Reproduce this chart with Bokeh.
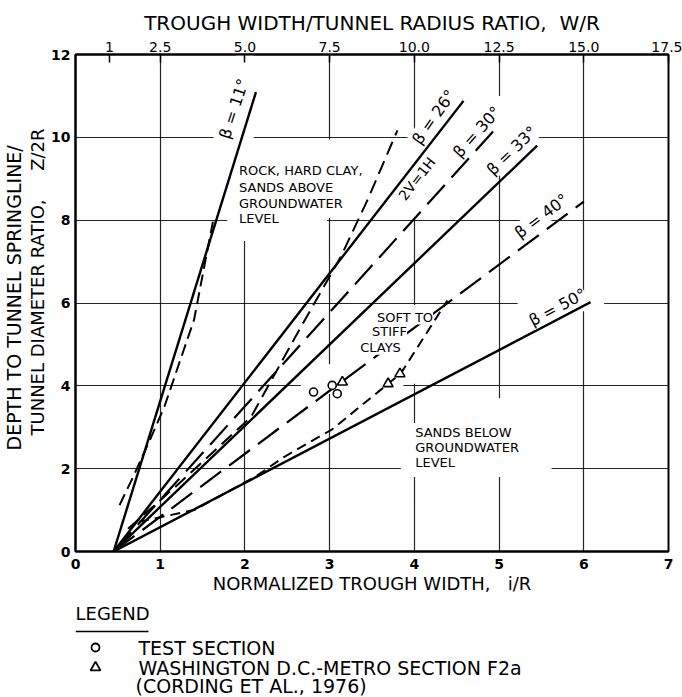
import math
from bokeh.plotting import figure
from bokeh.layouts import column
from bokeh.models import Range1d, LinearAxis, FixedTicker, Label, Title
from bokeh.embed import file_html
from bokeh.resources import INLINE

# ---------------- data ----------------
x_ticks = [0, 1, 2, 3, 4, 5, 6, 7]
y_ticks = [0, 2, 4, 6, 8, 10, 12]
wr_ticks = [1, 2.5, 5.0, 7.5, 10.0, 12.5, 15.0, 17.5]
wr_labels = ["1", "2.5", "5.0", "7.5", "10.0", "12.5", "15.0", "17.5"]

origin_x = 0.45
origin_y = 0.0
beta_deg = [11, 26, 30, 33, 40, 50]
beta_end_x = [2.13, 4.58, 5.0, 5.45, 6.0, 6.08]
beta_end_y = [11.09, 10.88, 10.3, 9.8, 8.45, 6.02]
beta_dashed = [False, False, True, False, True, False]

# envelope of "rock, hard clay, sands above groundwater" (left, near beta=11)
rock_left_x = [0.52, 0.68, 0.88, 1.05, 1.2, 1.4, 1.55, 1.63]
rock_left_y = [1.12, 1.8, 2.7, 3.5, 4.4, 5.6, 7.2, 8.05]
# envelope (right, steep dashed)
rock_right_x = [0.62, 1.2, 2.07, 2.6, 3.13, 3.45, 3.80]
rock_right_y = [0.55, 1.6, 3.24, 5.2, 7.11, 8.5, 10.17]
# envelope of "soft to stiff clays" (short dashes)
clay_x = [0.75, 1.1, 1.4, 2.12, 2.46, 3.03, 3.84, 4.39]
clay_y = [0.72, 0.87, 1.0, 1.8, 2.28, 2.95, 4.3, 6.06]

test_x = [2.81, 3.03, 3.09]
test_y = [3.85, 4.01, 3.81]
metro_x = [3.15, 3.69, 3.83]
metro_y = [4.09, 4.05, 4.29]

FONT = "DejaVu Sans"
NB = "\u00a0"

# ---------------- main figure ----------------
p = figure(width=682, height=600, title=None,
           x_range=Range1d(0, 7), y_range=Range1d(0, 12),
           output_backend="svg", toolbar_location=None,
           min_border_left=75, min_border_right=14,
           min_border_top=54, min_border_bottom=49)
p.background_fill_color = "white"
p.border_fill_color = "white"
p.outline_line_color = "black"
p.outline_line_width = 2

bottom = p.below[0]
left = p.left[0]

bottom.ticker = FixedTicker(ticks=x_ticks)
left.ticker = FixedTicker(ticks=y_ticks)
p.xgrid.ticker = FixedTicker(ticks=x_ticks)
p.ygrid.ticker = FixedTicker(ticks=y_ticks)
for g in (p.xgrid, p.ygrid):
    g.grid_line_color = "black"
    g.grid_line_width = 1.2
    g.grid_line_alpha = 0.85

p.extra_x_ranges = {"wr": Range1d(0, 17.5)}
top = LinearAxis(x_range_name="wr", ticker=FixedTicker(ticks=wr_ticks),
                 major_label_overrides=dict(zip(wr_ticks, wr_labels)),
                 axis_label="TROUGH WIDTH/TUNNEL RADIUS RATIO," + NB * 2 + "W/R")
p.add_layout(top, "above")

bottom.axis_label = "NORMALIZED TROUGH WIDTH," + NB * 3 + "i/R"

for ax in (bottom, left, top):
    ax.axis_line_color = "black"
    ax.axis_line_width = 2
    ax.major_tick_in = 0
    ax.major_tick_out = 0
    ax.minor_tick_line_color = None
    ax.major_label_text_font = FONT
    ax.major_label_text_font_size = "14px"
    ax.major_label_text_color = "black"
    ax.axis_label_text_font = FONT
    ax.axis_label_text_font_size = "18px"
    ax.axis_label_text_font_style = "normal"
    ax.axis_label_text_color = "black"

bottom.major_label_text_font_style = "bold"
left.major_label_text_font_style = "bold"
bottom.major_label_standoff = 7
bottom.axis_label_standoff = 1
left.major_label_standoff = 5
top.major_label_standoff = 3
top.axis_label_standoff = 4
top.axis_label_text_font_size = "20px"
top.major_tick_in = 8
top.major_tick_line_width = 1.5

# y-axis title: two lines, as side titles
t2 = Title(text="TUNNEL DIAMETER RATIO," + NB * 5 + "Z/2R", align="left",
           offset=116, standoff=1, text_font=FONT, text_font_size="18px",
           text_font_style="normal", text_color="black")
p.add_layout(t2, "left")
t1 = Title(text="DEPTH TO TUNNEL SPRINGLINE/", align="left",
           offset=101, standoff=0, text_font=FONT, text_font_size="19px",
           text_font_style="normal", text_color="black")
p.add_layout(t1, "left")

# ---------------- grid masks (hand-drafted gaps in grid) ----------------
mask_l = [1.63, 1.9, 1.79, 2.9, 3.9, 3.92, 4.9, 5.22, 2.66, 3.84, 2.9, 3.9, 3.9, 4.9]
mask_r = [2.10, 2.1, 2.97, 3.1, 4.1, 5.45, 5.1, 6.24, 3.87, 5.62, 3.1, 4.1, 4.1, 5.1]
mask_b = [9.7, 7.5, 7.8, 8.05, 8.05, 9.8, 9.1, 5.8, 3.8, 1.8, 3.9, 4.05, 1.9, 1.95]
mask_t = [10.3, 11.98, 8.2, 9.95, 9.95, 10.2, 11.0, 6.2, 4.2, 2.2, 4.52, 5.95, 3.1, 3.7]
p.quad(left=mask_l, right=mask_r, bottom=mask_b, top=mask_t,
       fill_color="white", line_color=None)

# ---------------- lines ----------------
for bx, by, dashed in zip(beta_end_x, beta_end_y, beta_dashed):
    if dashed:
        p.line([origin_x, bx], [origin_y, by], line_color="black",
               line_width=2.2, line_dash="26 10")
    else:
        p.line([origin_x, bx], [origin_y, by], line_color="black",
               line_width=2.4)

p.line(rock_left_x, rock_left_y, line_color="black", line_width=2,
       line_dash="12 6")
p.line(rock_right_x, rock_right_y, line_color="black", line_width=2,
       line_dash="14 7")
p.line(clay_x, clay_y, line_color="black", line_width=2, line_dash="10 6")

p.scatter(test_x, test_y, marker="circle", size=8, fill_color="white",
          line_color="black", line_width=1.6)
p.scatter(metro_x, metro_y, marker="triangle", size=10, fill_color="white",
          line_color="black", line_width=1.6)

# ---------------- in-plot labels ----------------
def lab(fig, x, y, text, size="14px", angle=0.0, align="center", bg=True):
    fig.add_layout(Label(x=x, y=y, text=text, angle=math.radians(angle),
                         text_font=FONT, text_font_size=size,
                         text_align=align, text_baseline="middle",
                         text_color="black",
                         background_fill_color="white" if bg else None))

lab(p, 1.87, 10.69, "\u03b2 = 11\u00b0", "16px", 72)
lab(p, 4.23, 10.49, "\u03b2 = 26\u00b0", "16px", 55)
lab(p, 4.03, 9.0, "2V=1H", "14px", 52)
lab(p, 4.74, 10.13, "\u03b2 = 30\u00b0", "16px", 48)
lab(p, 5.15, 9.68, "\u03b2 = 33\u00b0", "16px", 44)
lab(p, 5.5, 8.1, "\u03b2 = 40\u00b0", "16px", 37)
lab(p, 5.69, 5.9, "\u03b2 = 50\u00b0", "16px", 28)

for t, yy in zip(["ROCK, HARD CLAY,", "SANDS  ABOVE", "GROUNDWATER", "LEVEL"],
                 [9.20, 8.80, 8.41, 8.04]):
    lab(p, 1.93, yy, t, "13px", 0, "left", bg=False)
for t, xx, yy in zip(["SOFT TO", "STIFF", "CLAYS"], [3.56, 3.50, 3.36],
                     [5.66, 5.30, 4.93]):
    lab(p, xx, yy, t, "13px", 0, "left")
for t, yy in zip(["SANDS  BELOW", "GROUNDWATER", "LEVEL"], [2.88, 2.52, 2.16]):
    lab(p, 4.01, yy, t, "13px", 0, "left", bg=False)

# ---------------- legend figure (below the chart, page-pixel coords) ----------------
lg = figure(width=682, height=97, title=None,
            x_range=Range1d(75, 668), y_range=Range1d(97, 0),
            output_backend="svg", toolbar_location=None,
            x_axis_type=None, y_axis_type=None,
            min_border_left=75, min_border_right=14,
            min_border_top=0, min_border_bottom=0)
lg.outline_line_color = None
lg.grid.visible = False
lg.background_fill_color = "white"
lg.border_fill_color = "white"

lab(lg, 75, 13, "LEGEND", "18px", 0, "left", bg=False)
lg.line([75, 148], [31, 31], line_color="black", line_width=1.6)
lg.scatter([95], [47], marker="circle", size=8, fill_color="white",
           line_color="black", line_width=1.8)
lg.scatter([95], [67], marker="triangle", size=10, fill_color="white",
           line_color="black", line_width=1.8)
lab(lg, 138, 47, "TEST SECTION", "19px", 0, "left", bg=False)
lab(lg, 138, 67, "WASHINGTON D.C.-METRO SECTION F2a", "19px", 0, "left", bg=False)
lab(lg, 135, 85, "(CORDING ET AL., 1976)", "19px", 0, "left", bg=False)

layout = column(p, lg, spacing=0)
open("out.html", "w").write(file_html(layout, INLINE))
